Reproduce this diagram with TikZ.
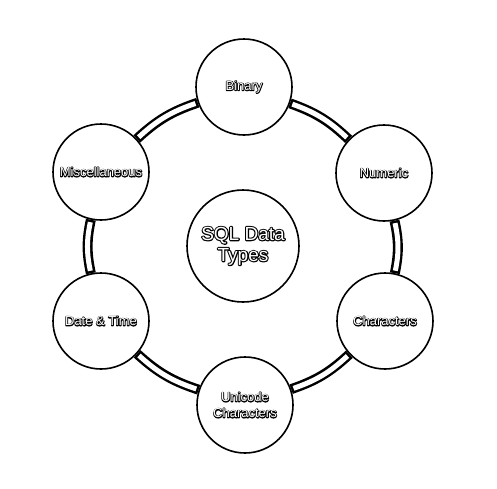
\documentclass[tikz,border=0pt]{standalone}
\usepackage{fontspec}
\setmainfont{Liberation Sans}
\newcommand\olt[2][1.6]{\rlap{\special{pdf:literal direct 0 G #1 w 1 j 2 Tr}#2\special{pdf:literal direct 0 Tr}}#2}
\begin{document}
\begin{tikzpicture}[x=1pt,y=-1pt,
  dtype/.style={circle, draw=black, line width=1.6pt, fill=white, minimum size=96pt,
    inner sep=0pt, text=white, font=\fontsize{13}{16}\selectfont, align=center},
  hub/.style={dtype, minimum size=112pt, font=\fontsize{19}{21}\selectfont},
  ringout/.style={line width=10pt, draw=black},
  ringin/.style={line width=5pt, draw=white, shorten <=2.5pt, shorten >=2.5pt}]
\useasboundingbox (0,0) rectangle (497,488);
\node[hub] (hub) at (243,246) {\olt[2.2]{SQL Data}\\\olt[2.2]{Types}};
\node[dtype] (binary) at (244,87) {\olt{Binary}};
\node[dtype] (numeric) at (384,173) {\olt{Numeric}};
\node[dtype] (chars) at (385,321) {\olt{Characters}};
\node[dtype] (unicode) at (245,405) {\olt{Unicode}\\\olt{Characters}};
\node[dtype] (date) at (101,321) {\olt{Date \& Time}};
\node[dtype] (misc) at (101,172) {\olt{Miscellaneous}};
\foreach \a/\b in {binary/numeric, numeric/chars, chars/unicode, unicode/date, date/misc, misc/binary} {
  \draw[ringout] (\a) to[bend left=12] (\b);
  \draw[ringin] (\a) to[bend left=12] (\b);
}
\end{tikzpicture}
\end{document}
